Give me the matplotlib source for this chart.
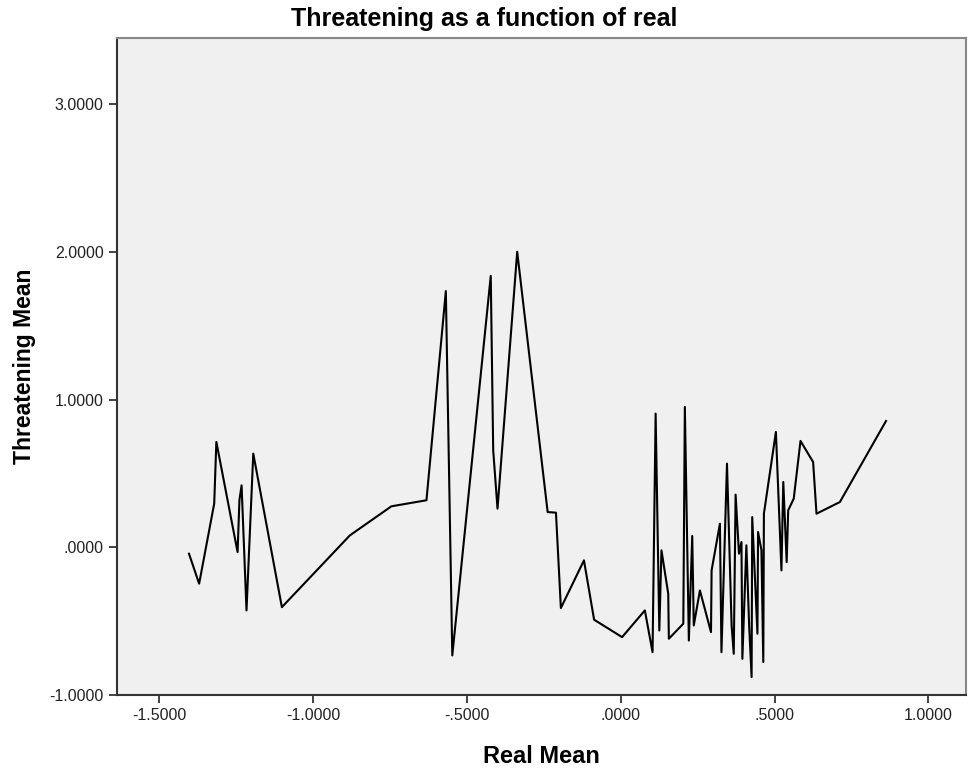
import matplotlib
matplotlib.use("Agg")
import matplotlib.pyplot as plt
from matplotlib.ticker import FuncFormatter

# data (x sorted, joined by a line)
real_mean = [-1.404, -1.371, -1.322, -1.315, -1.246, -1.240, -1.233, -1.217, -1.195, -1.102,
             -0.881, -0.746, -0.632, -0.569, -0.548, -0.423, -0.415, -0.401, -0.337, -0.238,
             -0.211, -0.195, -0.120, -0.087, 0.004, 0.078, 0.103, 0.113, 0.125, 0.132,
             0.154, 0.156, 0.203, 0.208, 0.221, 0.232, 0.237, 0.257, 0.293, 0.295,
             0.322, 0.327, 0.345, 0.360, 0.367, 0.373, 0.384, 0.392, 0.395, 0.408,
             0.417, 0.425, 0.427, 0.444, 0.446, 0.457, 0.463, 0.465, 0.504, 0.522,
             0.528, 0.539, 0.544, 0.562, 0.584, 0.625, 0.636, 0.712, 0.862]
threat_mean = [-0.043, -0.246, 0.296, 0.714, -0.032, 0.320, 0.420, -0.427, 0.635, -0.405,
               0.081, 0.278, 0.319, 1.736, -0.732, 1.839, 0.657, 0.262, 2.002, 0.239,
               0.235, -0.411, -0.088, -0.490, -0.608, -0.427, -0.710, 0.906, -0.563, -0.020,
               -0.314, -0.619, -0.517, 0.951, -0.631, 0.077, -0.529, -0.292, -0.574, -0.156,
               0.160, -0.710, 0.567, -0.529, -0.721, 0.357, -0.043, 0.036, -0.755, 0.014,
               -0.529, -0.879, 0.205, -0.585, 0.104, -0.020, -0.777, 0.228, 0.782, -0.156,
               0.443, -0.100, 0.251, 0.330, 0.721, 0.578, 0.228, 0.307, 0.856]

x_ticks = [-1.5, -1.0, -0.5, 0.0, 0.5, 1.0]
y_ticks = [-1.0, 0.0, 1.0, 2.0, 3.0]

plt.rcParams['font.family'] = ['Liberation Sans', 'DejaVu Sans']


def spss_fmt(v, pos):
    # SPSS style labels: ".5000", "-.5000", "1.0000"
    s = "{:.4f}".format(v)
    if s.startswith("0."):
        s = s[1:]
    elif s.startswith("-0."):
        s = "-" + s[2:]
    return s


fig = plt.figure(figsize=(9.69, 7.72), dpi=100)
ax = fig.add_axes([117 / 969, 1 - 695 / 772, (966 - 117) / 969, (695 - 38) / 772])
ax.set_facecolor('#f0f0f0')

ax.plot(real_mean, threat_mean, color='black', linewidth=1.5)

ax.set_xlim(-1.638, 1.122)
ax.set_ylim(-1.0, 3.45)
ax.set_xticks(x_ticks)
ax.set_yticks(y_ticks)
ax.xaxis.set_major_formatter(FuncFormatter(spss_fmt))
ax.yaxis.set_major_formatter(FuncFormatter(spss_fmt))
ax.tick_params(direction='out', length=6, width=1.2, labelsize=11.5, colors='#222222')

for side in ['left', 'bottom']:
    ax.spines[side].set_color('#333333')
    ax.spines[side].set_linewidth(1.5)
for side in ['top', 'right']:
    ax.spines[side].set_color('#888888')
    ax.spines[side].set_linewidth(1.5)

ax.set_xlabel('Real Mean', fontsize=17, fontweight='bold', labelpad=16)
ax.set_ylabel('Threatening Mean', fontsize=16.5, fontweight='bold', labelpad=10)
# title is centred on the whole figure, not on the axes
fig.text(0.5, 1 - 19 / 772, 'Threatening as a function of real', fontsize=18,
         fontweight='bold', ha='center', va='center')

fig.savefig('out.png', dpi=100)
